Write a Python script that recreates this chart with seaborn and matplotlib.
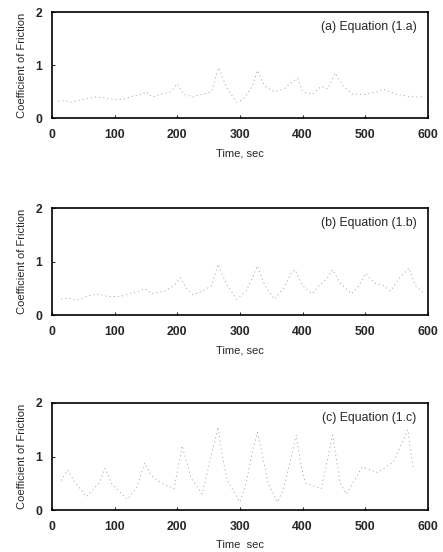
import numpy as np
import pandas as pd
import matplotlib
matplotlib.use("Agg")
import matplotlib.pyplot as plt
import seaborn as sns

# panel (a) Equation (1.a)
time_a = [10, 20, 30, 40, 55, 70, 85, 100, 115, 130, 145, 150, 160, 175, 190, 200, 210, 225, 240,
          255, 263, 267, 271, 280, 295, 305, 320, 328, 340, 355, 370, 385, 392, 400, 415, 430,
          440, 452, 465, 480, 500, 520, 528, 550, 575, 595]
cof_a = [0.32, 0.33, 0.30, 0.33, 0.37, 0.40, 0.38, 0.35, 0.36, 0.42, 0.45, 0.50, 0.40, 0.45, 0.50,
         0.65, 0.45, 0.40, 0.45, 0.50, 0.85, 0.95, 0.80, 0.55, 0.30, 0.35, 0.60, 0.90, 0.60, 0.50,
         0.55, 0.70, 0.75, 0.50, 0.45, 0.60, 0.55, 0.85, 0.60, 0.45, 0.45, 0.50, 0.55, 0.45, 0.40, 0.40]

# panel (b) Equation (1.b)
time_b = [15, 25, 40, 55, 70, 90, 110, 130, 140, 148, 160, 180, 195, 205, 215, 225, 240, 255,
          265, 280, 295, 310, 320, 328, 340, 355, 370, 380, 388, 400, 415, 430, 440, 448, 460,
          478, 490, 500, 515, 530, 540, 555, 570, 580, 595]
cof_b = [0.30, 0.32, 0.28, 0.35, 0.40, 0.35, 0.35, 0.42, 0.45, 0.50, 0.40, 0.45, 0.55, 0.70, 0.50,
         0.38, 0.45, 0.55, 0.95, 0.55, 0.30, 0.45, 0.70, 0.92, 0.55, 0.30, 0.50, 0.75, 0.85, 0.55,
         0.40, 0.60, 0.70, 0.85, 0.60, 0.40, 0.55, 0.78, 0.60, 0.55, 0.45, 0.70, 0.88, 0.55, 0.40]

# panel (c) Equation (1.c)
time_c = [15, 25, 35, 55, 75, 85, 95, 120, 135, 148, 158, 175, 195, 208, 222, 240, 265, 272, 280,
          300, 310, 320, 328, 340, 345, 360, 370, 383, 390, 398, 405, 430, 448, 460, 470, 495,
          520, 545, 568, 576]
cof_c = [0.55, 0.75, 0.55, 0.25, 0.50, 0.78, 0.50, 0.20, 0.40, 0.88, 0.65, 0.50, 0.40, 1.20, 0.60,
         0.30, 1.55, 1.00, 0.55, 0.15, 0.50, 1.10, 1.45, 0.80, 0.50, 0.15, 0.40, 1.05, 1.40, 0.80,
         0.50, 0.40, 1.40, 0.50, 0.30, 0.80, 0.70, 0.90, 1.50, 0.80]

panels = [
    ("(a) Equation (1.a)", time_a, cof_a, "Time, sec"),
    ("(b) Equation (1.b)", time_b, cof_b, "Time, sec"),
    ("(c) Equation (1.c)", time_c, cof_c, "Time  sec"),
]
x_ticks = [0, 100, 200, 300, 400, 500, 600]
y_ticks = [0, 1, 2]

sns.set_style("ticks")
plt.rcParams["font.family"] = ["Liberation Sans", "DejaVu Sans"]

fig = plt.figure(figsize=(4.43, 5.52), dpi=100)
boxes = [
    [0.117, 0.786, 0.849, 0.192],
    [0.117, 0.429, 0.849, 0.194],
    [0.117, 0.076, 0.849, 0.194],
]

for box, (label, t, c, xlab) in zip(boxes, panels):
    ax = fig.add_axes(box)
    df = pd.DataFrame({"time": t, "cof": c})
    sns.lineplot(data=df, x="time", y="cof", ax=ax, color="#a5a5a5",
                 linewidth=0.6, linestyle=(0, (1.5, 3.5)))
    ax.set_xlim(0, 600)
    ax.set_ylim(0, 2)
    ax.set_xticks(x_ticks)
    ax.set_yticks(y_ticks)
    ax.tick_params(direction="in", length=2, width=0.8, labelsize=8.8)
    ax.tick_params(axis="x", pad=8)
    ax.tick_params(axis="y", pad=7)
    for lab in ax.get_xticklabels() + ax.get_yticklabels():
        lab.set_fontweight("bold")
    for sp in ax.spines.values():
        sp.set_linewidth(1.2)
        sp.set_color("black")
    ax.set_xlabel(xlab, fontsize=8, labelpad=5)
    ax.set_ylabel("Coefficient of Friction", fontsize=8, labelpad=6)
    ax.text(0.97, 0.86, label, transform=ax.transAxes, ha="right", va="center", fontsize=8.8)

fig.savefig("out.png", dpi=100)
